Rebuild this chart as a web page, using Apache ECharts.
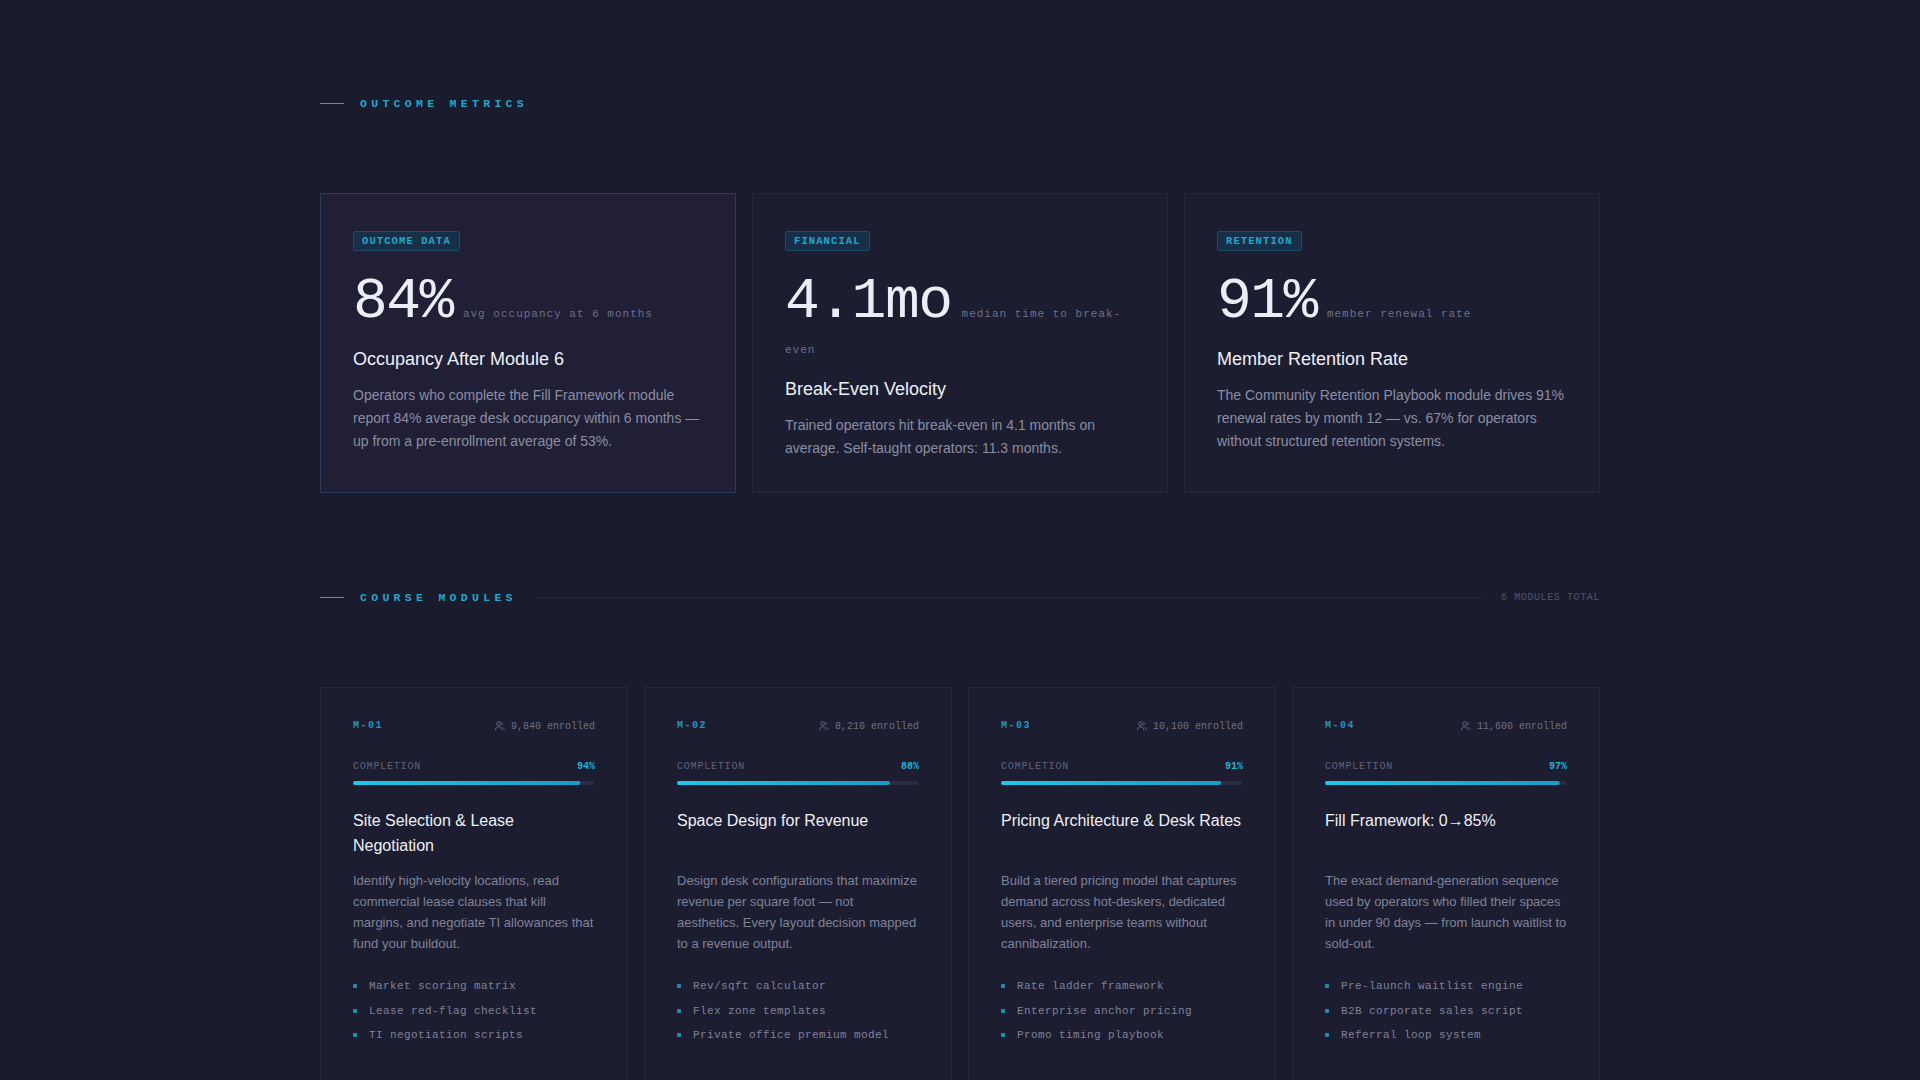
<!DOCTYPE html>
<html><head><meta charset="utf-8">
<script src="https://cdn.jsdelivr.net/npm/echarts@6/dist/echarts.min.js"></script>
<style>
body{margin:0;width:1920px;height:1080px;background:#1a1b2d;overflow:hidden;font-family:"Liberation Sans",Arial,sans-serif;position:relative}
.sec{position:absolute;left:320px;display:flex;align-items:center;width:1280px}
.sec .ln{width:24px;height:1px;background:#22a7cc;margin-right:16px}
.sec .t{color:#22a7cc;font-size:11.5px;letter-spacing:4.3px;font-family:"Liberation Mono",monospace;font-weight:bold}
.sec .rule{flex:1;height:1px;background:#262a40;margin:0 18px}
.sec .r{color:#4f5470;font-size:10px;letter-spacing:0.6px;font-family:"Liberation Mono",monospace}
.card{position:absolute;top:193px;width:416px;height:300px;background:#1c1d30;border:1px solid #262839;box-sizing:border-box;padding:36px 32px}
.card.hl{background:#201f35;border-color:#2b3b5e}
.badge{display:inline-block;font-family:"Liberation Mono",monospace;font-size:10.5px;font-weight:bold;letter-spacing:1.1px;color:#22a7cc;background:#16304a;border:1px solid #1f4a66;padding:3px 8px;border-radius:2px}
.big{margin-top:18px;line-height:1}
.big b{display:inline-block;font-family:"Liberation Mono",monospace;font-weight:normal;font-size:58px;line-height:66px;color:#eceef5;letter-spacing:-1.5px}
.big span{font-family:"Liberation Mono",monospace;font-size:11px;color:#6c7088;letter-spacing:1px;margin-left:10px;line-height:30px}
.ct{font-size:18px;color:#eef0f6;margin-top:14px}
.cd{font-size:14px;color:#8a8da3;line-height:23px;margin-top:14px}
.mod{position:absolute;top:687px;width:308px;height:400px;background:#1c1d30;border:1px solid #262839;box-sizing:border-box;padding:32px 32px}
.mh{display:flex;justify-content:space-between;font-family:"Liberation Mono",monospace;font-size:10px}
.mh .id{color:#2294be;letter-spacing:1.5px;font-weight:bold}
.mh .en{color:#6c7088}
.cp{display:flex;justify-content:space-between;margin-top:29px;font-family:"Liberation Mono",monospace;font-size:10px}
.cp .l{color:#5f637b;letter-spacing:0.8px}.cp .v{color:#22b3da;font-weight:bold}
.bar{width:242px;height:8px;margin-top:7px}
.mt{font-size:16px;color:#eef0f6;line-height:24.5px;margin-top:22px;height:49px}
.md{font-size:13px;color:#7f8298;line-height:21px;margin-top:12px}
.mb{margin-top:26px;font-family:"Liberation Mono",monospace;font-size:11px;color:#7f8298;letter-spacing:0.4px}
.mb div{height:24.5px}
.mb div:before{content:"";display:inline-block;width:4px;height:4px;background:#1d8fb3;margin-right:12px;vertical-align:middle;border-radius:1px}
</style></head><body>
<div id="root"></div>
<script>
const metricBadges=["OUTCOME DATA","FINANCIAL","RETENTION"];
const metricValues=["84%","4.1mo","91%"];
const metricUnits=["avg occupancy at 6 months","median time to break-even","member renewal rate"];
const metricTitles=["Occupancy After Module 6","Break-Even Velocity","Member Retention Rate"];
const metricDescs=["Operators who complete the Fill Framework module report 84% average desk occupancy within 6 months — up from a pre-enrollment average of 53%.","Trained operators hit break-even in 4.1 months on average. Self-taught operators: 11.3 months.","The Community Retention Playbook module drives 91% renewal rates by month 12 — vs. 67% for operators without structured retention systems."];
const moduleIds=["M-01","M-02","M-03","M-04"];
const moduleEnrolled=["9,840","8,210","10,100","11,600"];
const moduleCompletion=[94,88,91,97];
const moduleTitles=["Site Selection & Lease Negotiation","Space Design for Revenue","Pricing Architecture & Desk Rates","Fill Framework: 0→85%"];
const moduleDescs=["Identify high-velocity locations, read commercial lease clauses that kill margins, and negotiate TI allowances that fund your buildout.","Design desk configurations that maximize revenue per square foot — not aesthetics. Every layout decision mapped to a revenue output.","Build a tiered pricing model that captures demand across hot-deskers, dedicated users, and enterprise teams without cannibalization.","The exact demand-generation sequence used by operators who filled their spaces in under 90 days — from launch waitlist to sold-out."];
const moduleBullets=[["Market scoring matrix","Lease red-flag checklist","TI negotiation scripts"],["Rev/sqft calculator","Flex zone templates","Private office premium model"],["Rate ladder framework","Enterprise anchor pricing","Promo timing playbook"],["Pre-launch waitlist engine","B2B corporate sales script","Referral loop system"]];

let h='<div class="sec" style="top:97px"><div class="ln"></div><div class="t">OUTCOME METRICS</div></div>';
h+='<div class="sec" style="top:591px"><div class="ln"></div><div class="t">COURSE MODULES</div><div class="rule"></div><div class="r">6 MODULES TOTAL</div></div>';
metricValues.forEach((v,i)=>{
 h+=`<div class="card${i==0?' hl':''}" style="left:${320+i*432}px"><div class="badge">${metricBadges[i]}</div>
 <div class="big"><b>${v}</b><span>${metricUnits[i]}</span></div>
 <div class="ct">${metricTitles[i]}</div><div class="cd">${metricDescs[i]}</div></div>`;
});
const icon='<svg width="11" height="11" viewBox="0 0 12 12" style="vertical-align:-2px;margin-right:6px" fill="none" stroke="#6c7088" stroke-width="1"><circle cx="5" cy="4" r="2"/><path d="M1.5 11c0-2 1.5-3.5 3.5-3.5S8.5 9 8.5 11"/><path d="M8 2.2a2 2 0 010 3.6M9.5 8c1 .6 1.5 1.7 1.5 3"/></svg>';
moduleIds.forEach((id,i)=>{
 h+=`<div class="mod" style="left:${320+i*324}px"><div class="mh"><span class="id">${id}</span><span class="en">${icon}${moduleEnrolled[i]} enrolled</span></div>
 <div class="cp"><span class="l">COMPLETION</span><span class="v">${moduleCompletion[i]}%</span></div>
 <div class="bar" id="bar${i}"></div>
 <div class="mt">${moduleTitles[i]}</div><div class="md">${moduleDescs[i]}</div>
 <div class="mb">${moduleBullets[i].map(b=>'<div>'+b+'</div>').join('')}</div></div>`;
});
document.getElementById('root').innerHTML=h;
moduleCompletion.forEach((c,i)=>{
 const ch=echarts.init(document.getElementById('bar'+i));
 ch.setOption({animation:false,grid:{left:0,right:0,top:0,bottom:0},
  xAxis:{type:'value',min:0,max:100,show:false},
  yAxis:{type:'category',data:[moduleIds[i]],show:false},
  series:[{type:'bar',data:[c],barWidth:4,showBackground:true,backgroundStyle:{color:'#2a2d42',borderRadius:2},
   itemStyle:{borderRadius:2,color:new echarts.graphic.LinearGradient(0,0,1,0,[{offset:0,color:'#1ec8ea'},{offset:1,color:'#1a9cc4'}])}}]});
});
</script></body></html>
